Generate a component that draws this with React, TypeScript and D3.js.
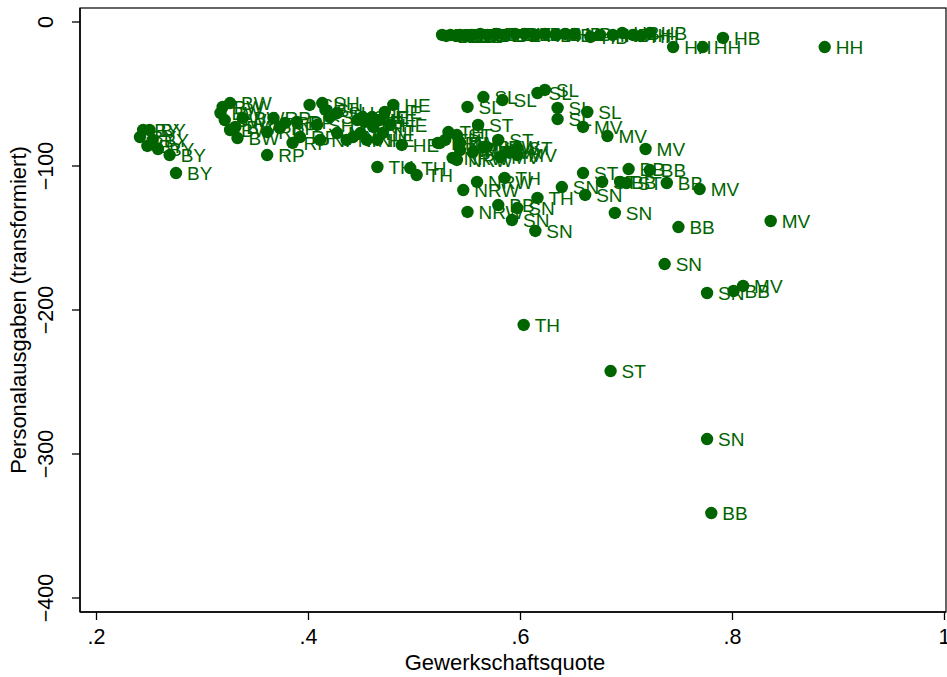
import React from "react";
import * as d3 from "d3";

// Data: [Gewerkschaftsquote, Personalausgaben (transformiert)] per Land
const BY: [number, number][] = [
  [0.241, -79.9], [0.244, -75.0], [0.25, -75.0], [0.248, -86.1],
  [0.253, -81.9], [0.258, -88.2], [0.269, -92.4], [0.275, -104.9],
];
const BW: [number, number][] = [
  [0.326, -56.3], [0.319, -59.0], [0.317, -63.2], [0.321, -68.1],
  [0.331, -72.9], [0.333, -80.6], [0.338, -66.7], [0.326, -75.0],
];
const RP: [number, number][] = [
  [0.361, -92.4], [0.367, -66.7], [0.378, -70.1], [0.389, -69.4],
  [0.392, -79.9], [0.385, -84.0], [0.361, -76.4], [0.373, -73.6],
];
const SH: [number, number][] = [
  [0.401, -57.6], [0.413, -56.3], [0.416, -61.1], [0.42, -66.0],
  [0.408, -71.5], [0.446, -68.1], [0.451, -66.0], [0.427, -63.2],
];
const NI: [number, number][] = [
  [0.427, -77.1], [0.436, -81.9], [0.442, -79.9], [0.461, -72.9],
  [0.449, -77.1], [0.455, -81.9], [0.411, -81.9], [0.47, -77.1],
];
const HE: [number, number][] = [
  [0.48, -57.6], [0.472, -62.5], [0.467, -68.1], [0.46, -66.0],
  [0.453, -69.4], [0.477, -71.5], [0.488, -85.4], [0.465, -81.9],
];
const TH: [number, number][] = [
  [0.465, -100.7], [0.496, -101.4], [0.502, -106.3], [0.585, -108.3],
  [0.616, -122.2], [0.603, -210.4], [0.522, -84.0], [0.529, -81.9],
  [0.532, -76.4], [0.543, -84.0],
];
const ST: [number, number][] = [
  [0.56, -71.5], [0.579, -81.9], [0.597, -87.5], [0.659, -104.9],
  [0.7, -111.8], [0.685, -242.4], [0.677, -111.1], [0.568, -86.8],
  [0.54, -78.5],
];
const NRW: [number, number][] = [
  [0.546, -116.7], [0.55, -131.9], [0.559, -111.1], [0.524, -84.0],
  [0.536, -94.4], [0.54, -95.8], [0.555, -90.3], [0.565, -86.8],
  [0.543, -88.9],
];
const MV: [number, number][] = [
  [0.581, -93.8], [0.659, -72.9], [0.682, -79.2], [0.718, -88.2],
  [0.769, -116.0], [0.836, -138.2], [0.81, -183.3], [0.597, -92.4],
  [0.588, -90.3],
];
const SL: [number, number][] = [
  [0.55, -59.0], [0.565, -52.1], [0.583, -54.2], [0.616, -49.3],
  [0.623, -47.2], [0.635, -59.7], [0.663, -62.5], [0.635, -67.4],
];
const SN: [number, number][] = [
  [0.639, -114.6], [0.661, -120.1], [0.689, -132.6], [0.736, -168.1],
  [0.776, -188.2], [0.776, -289.6], [0.614, -145.1], [0.592, -137.5],
  [0.597, -129.2],
];
const BB: [number, number][] = [
  [0.702, -102.1], [0.722, -102.8], [0.738, -111.8], [0.749, -142.4],
  [0.801, -186.8], [0.78, -341.0], [0.579, -127.1], [0.694, -111.1],
];
const BE: [number, number][] = [
  [0.526, -9.0], [0.53, -9.7], [0.534, -9.0], [0.539, -9.7],
  [0.543, -9.0], [0.549, -9.7], [0.554, -9.0], [0.562, -8.3],
  [0.569, -9.0], [0.577, -8.3], [0.585, -9.0], [0.595, -8.3],
];
const HB: [number, number][] = [
  [0.604, -8.3], [0.614, -9.0], [0.623, -8.3], [0.633, -9.0],
  [0.642, -8.3], [0.651, -8.3], [0.666, -10.4], [0.687, -9.0],
  [0.696, -7.6], [0.722, -7.6], [0.791, -11.1],
];
const HH: [number, number][] = [
  [0.675, -9.0], [0.706, -9.0], [0.713, -9.7], [0.744, -17.4],
  [0.772, -17.4], [0.887, -17.4],
];

const groups: [string, [number, number][]][] = [
  ["BW", BW], ["BY", BY], ["BE", BE], ["BB", BB], ["HB", HB], ["HH", HH],
  ["HE", HE], ["MV", MV], ["NI", NI], ["NRW", NRW], ["RP", RP], ["SL", SL],
  ["SN", SN], ["ST", ST], ["SH", SH], ["TH", TH],
];

const xTicks = [0.2, 0.4, 0.6, 0.8, 1];
const xTickLabels = [".2", ".4", ".6", ".8", "1"];
const yTicks = [0, -100, -200, -300, -400];
const yTickLabels = ["0", "\u2212100", "\u2212200", "\u2212300", "\u2212400"];

const W = 947;
const H = 677;
const L = 80, R = 946, T = 8, B = 612;
const GREEN = "#006400";
const FONT = "'Liberation Sans', Arial, Helvetica, sans-serif";

export default function App() {
  const x = d3.scaleLinear().domain([0.2, 1]).range([96.5, 944.5]);
  const y = d3.scaleLinear().domain([0, -400]).range([22, 598]);

  const points = groups.flatMap(([lab, arr]) => arr.map((d) => ({ lab, qx: d[0], qy: d[1] })));

  return (
    <svg
      width={W}
      height={H}
      style={{ position: "absolute", left: 0, top: 0, background: "#fff" }}
      fontFamily={FONT}
    >
      <rect x={0} y={0} width={W} height={H} fill="#fff" />
      <rect x={L} y={T} width={R - L} height={B - T} fill="none" stroke="#000" strokeWidth={1.2} />
      {/* y axis */}
      <line x1={L} x2={L} y1={T} y2={B} stroke="#000" strokeWidth={1.5} />
      {yTicks.map((t, i) => (
        <g key={"yt" + i}>
          <line x1={L - 8} x2={L} y1={y(t)} y2={y(t)} stroke="#000" strokeWidth={1.3} />
          <text
            transform={`translate(53,${y(t)}) rotate(-90)`}
            textAnchor="middle"
            fontSize={21.5}
            fill="#000"
          >
            {yTickLabels[i]}
          </text>
        </g>
      ))}
      {/* x axis */}
      <line x1={L} x2={R} y1={B} y2={B} stroke="#000" strokeWidth={1.5} />
      {xTicks.map((t, i) => (
        <g key={"xt" + i}>
          <line x1={x(t)} x2={x(t)} y1={B} y2={B + 8} stroke="#000" strokeWidth={1.3} />
          <text x={x(t)} y={644} textAnchor="middle" fontSize={21.5} fill="#000">
            {xTickLabels[i]}
          </text>
        </g>
      ))}
      <text x={(L + R) / 2 - 8} y={670} textAnchor="middle" fontSize={22} fill="#000">
        Gewerkschaftsquote
      </text>
      <text
        transform={`translate(26,${(T + B) / 2}) rotate(-90)`}
        textAnchor="middle"
        fontSize={22}
        fill="#000"
      >
        Personalausgaben (transformiert)
      </text>
      {points.map((p, i) => (
        <g key={"p" + i}>
          <circle cx={x(p.qx)} cy={y(p.qy)} r={6.2} fill={GREEN} />
          <text x={x(p.qx) + 11} y={y(p.qy) + 6.8} fontSize={19} fill={GREEN}>
            {p.lab}
          </text>
        </g>
      ))}
    </svg>
  );
}
